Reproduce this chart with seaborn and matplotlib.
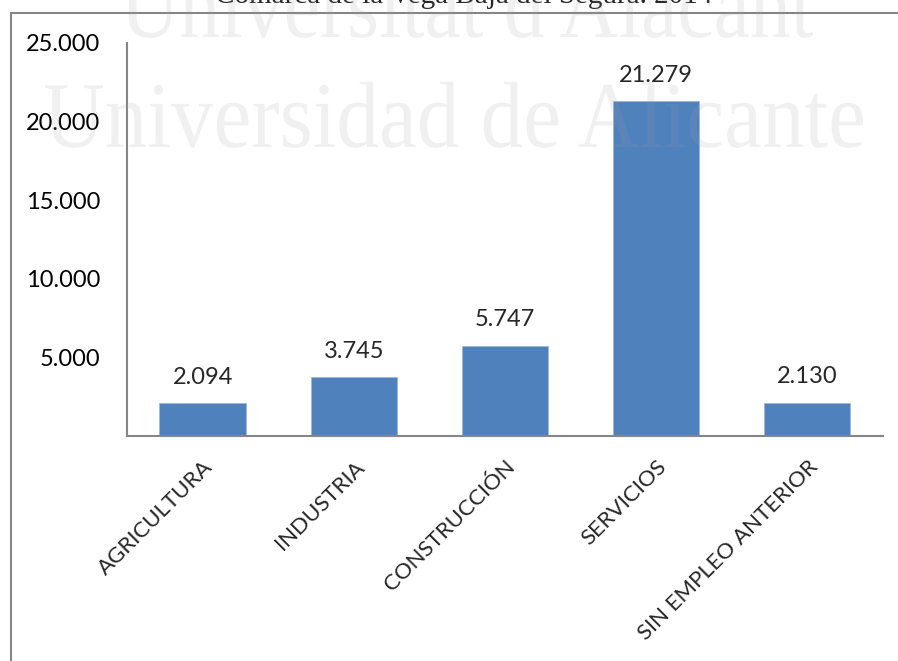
import matplotlib
matplotlib.use("Agg")
import matplotlib.pyplot as plt
import matplotlib.ticker as mticker
from matplotlib.lines import Line2D
from matplotlib.textpath import TextPath
from matplotlib.patches import PathPatch
from matplotlib.font_manager import FontProperties
from matplotlib.transforms import Affine2D, IdentityTransform
import pandas as pd
import seaborn as sns

# Parados por sector de actividad, Vega Baja del Segura 2014
sectores = ["AGRICULTURA", "INDUSTRIA", "CONSTRUCCIÓN", "SERVICIOS", "SIN EMPLEO ANTERIOR"]
parados = [2094, 3745, 5747, 21279, 2130]
yticks = [0, 5000, 10000, 15000, 20000, 25000]

titulo = "Comarca de la Vega Baja del Segura. 2014"
marca_agua = ["Universitat d'Alacant", "Universidad de Alicante"]

W, H = 898, 661


def miles(v, pos=None):
    if v == 0:
        return ""
    return f"{v:,.0f}".replace(",", ".")


def texto_estirado(fig, s, x0, x1, base, em_px, color="#a0a0a0", alpha=0.15):
    """Dibuja texto como trazado, ajustado a un ancho dado (en píxeles)."""
    tp = TextPath((0, 0), s, size=100, prop=FontProperties(family="Liberation Serif"))
    ext = tp.get_extents()
    sx = (x1 - x0) / ext.width
    sy = em_px / 100
    tr = Affine2D().translate(-ext.x0, 0).scale(sx, sy).translate(x0, H - base)
    patch = PathPatch(tr.transform_path(tp), facecolor=color, edgecolor="none",
                      alpha=alpha, transform=IdentityTransform(), zorder=10)
    fig.add_artist(patch)


df = pd.DataFrame({"sector": sectores, "parados": parados})

sns.set_style("white")
plt.rcParams["font.family"] = ["Lato", "DejaVu Sans"]

fig = plt.figure(figsize=(W / 100, H / 100), dpi=100)
ax = fig.add_axes([0.1414, 0.3404, 0.8419, 0.5946])

sns.barplot(data=df, x="sector", y="parados", ax=ax, color="#4F81BD",
            saturation=1, width=0.57, edgecolor="#9DB7DA", linewidth=0.6)

ax.set_ylim(0, 25000)
ax.set_xlim(-0.5, len(sectores) - 0.5)
ax.set_yticks(yticks)
ax.yaxis.set_major_formatter(mticker.FuncFormatter(miles))
ax.set_xlabel("")
ax.set_ylabel("")
ax.tick_params(axis="y", length=0, pad=19, labelsize=17, labelcolor="black")
ax.tick_params(axis="x", length=0, pad=15)
ax.set_xticks(range(len(sectores)))
ax.set_xticklabels(sectores, rotation=45, ha="right", va="top",
                   rotation_mode="anchor", fontsize=16)

sns.despine(ax=ax)
for lado in ["left", "bottom"]:
    ax.spines[lado].set_color("#868686")
    ax.spines[lado].set_linewidth(1.5)

for c in ax.containers:
    ax.bar_label(c, labels=[miles(v) for v in parados], padding=11, fontsize=17)

# marco del gráfico
fig.add_artist(Line2D([0.0122, 1.0], [0.980, 0.980], color="#868686", lw=1.5))
fig.add_artist(Line2D([0.0122, 0.0122], [0.0, 0.980], color="#868686", lw=1.5))

fig.text(464 / W, 1 - 3 / H, titulo, ha="center", va="baseline",
         fontsize=21, family="Liberation Serif")

# marca de agua
texto_estirado(fig, marca_agua[0], 122, 813, 37, 94)
texto_estirado(fig, marca_agua[1], 45, 863, 147, 94)

fig.savefig("out.png", dpi=100)
